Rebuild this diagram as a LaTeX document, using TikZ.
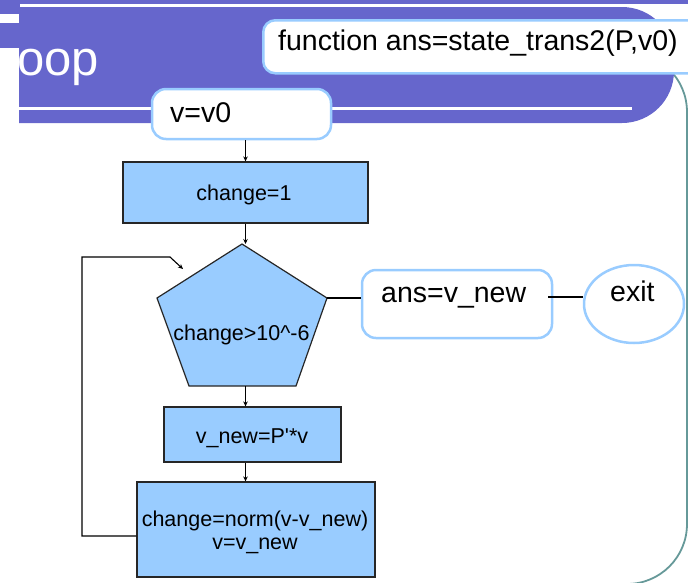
\documentclass[tikz,border=0pt]{standalone}
\usepackage{fontspec}
\setmainfont{Liberation Sans}
\usetikzlibrary{arrows.meta,shapes.geometric}
\definecolor{banner}{RGB}{102,102,204}
\definecolor{boxblue}{RGB}{153,204,255}
\definecolor{frameteal}{RGB}{102,153,153}

\begin{document}
\begin{tikzpicture}[x=1pt,y=-1pt,
  roundbox/.style={draw=boxblue, line width=2.5pt, fill=white, rounded corners=14pt, inner sep=0pt},
  procbox/.style={draw=black!85, line width=1.2pt, fill=boxblue, inner sep=0pt},
  flow/.style={line width=1.1pt, -{Stealth[length=5pt,width=4.5pt]}},
  link/.style={line width=1.1pt},
  txt/.style={inner sep=0pt, anchor=base, font=\fontsize{21.5}{26}\selectfont},
  bigtxt/.style={inner sep=0pt, anchor=base west, font=\fontsize{28.5}{32}\selectfont}]

\useasboundingbox (0,0) rectangle (688,582);
\clip (0,0) rectangle (688,582);

% slide frame on the right
\draw[frameteal, line width=1.8pt, rounded corners=60pt]
  (560,52) -- (687,52) -- (687,584) -- (560,584);

% title banner
\fill[banner] (0,0) rectangle (688,4);
\fill[banner] (0,0) rectangle (19.5,48);
\fill[white] (0,14) rectangle (19,23);
\begin{scope}
  \clip (19,0) rectangle (688,130);
  \fill[banner, rounded corners=52pt] (-100,7) rectangle (674,123);
\end{scope}
\fill[white] (19,106.5) rectangle (632,109.5);
\node[inner sep=0pt, anchor=base west, text=white, font=\fontsize{49}{52}\selectfont] (title) at (17,75) {oop};

% function header
\node[roundbox, rounded corners=12pt, minimum width=470, minimum height=53, anchor=north west] (func) at (262,19) {};
\node[bigtxt] (functext) at (278,50) {function ans=state\_trans2(P,v0)};

% flowchart boxes
\node[roundbox, minimum width=179, minimum height=50] (init) at (241.5,114) {};
\node[bigtxt] (inittext) at (170,122) {v=v0};

\node[procbox, minimum width=245, minimum height=61] (c1) at (245.5,192.5) {};
\node[txt] (c1text) at (244,200.7) {change=1};

% decision pentagon
\coordinate (pTop) at (242,244);
\coordinate (pR) at (327,298);
\coordinate (pBR) at (296,386);
\coordinate (pBL) at (189,386);
\coordinate (pL) at (157,298);
\coordinate (pB) at (245.5,386);
\draw[procbox] (pTop) -- (pR) -- (pBR) -- (pBL) -- (pL) -- cycle;
\node[txt] (test) at (241.5,340) {change>10\textasciicircum-6};

\node[roundbox, minimum width=190, minimum height=68] (ans) at (457,304) {};
\node[bigtxt] (anstext) at (381,302.5) {ans=v\_new};

\node[ellipse, draw=boxblue, line width=2.5pt, fill=white, minimum width=100, minimum height=78, inner sep=0pt] (exit) at (634,304) {};
\node[bigtxt] (exittext) at (610,301.5) {exit};

\node[procbox, minimum width=177, minimum height=55] (upd) at (252.5,434.5) {};
\node[txt] (updtext) at (252,443) {v\_new=P\textquotesingle*v};

\node[procbox, minimum width=238, minimum height=95] (norm) at (256,529.5) {};
\node[txt] (normtext1) at (255,526) {change=norm(v-v\_new)};
\node[txt] (normtext2) at (255,549.3) {v=v\_new};

% connectors
\draw[flow] (init.south -| c1.north) -- (c1.north);
\draw[flow] (c1.south) -- (c1.south |- pTop);
\draw[flow] (pB) -- (upd.north -| pB);
\draw[flow] (upd.south -| pB) -- (norm.north -| pB);

\coordinate (fbA) at (82,536);
\coordinate (fbB) at (82,257);
\coordinate (fbC) at (170,257);
\coordinate (fbEnd) at (183,269);
\draw[flow] (norm.west |- fbA) -- (fbA) -- (fbB) -- (fbC) -- (fbEnd);

\draw[link] (pR) -- (ans.west |- pR);
\coordinate (exitlvl) at (0,297);
\draw[line width=2pt] (ans.east |- exitlvl) ++(-5,0) -- (exit.west |- exitlvl);
\end{tikzpicture}
\end{document}
